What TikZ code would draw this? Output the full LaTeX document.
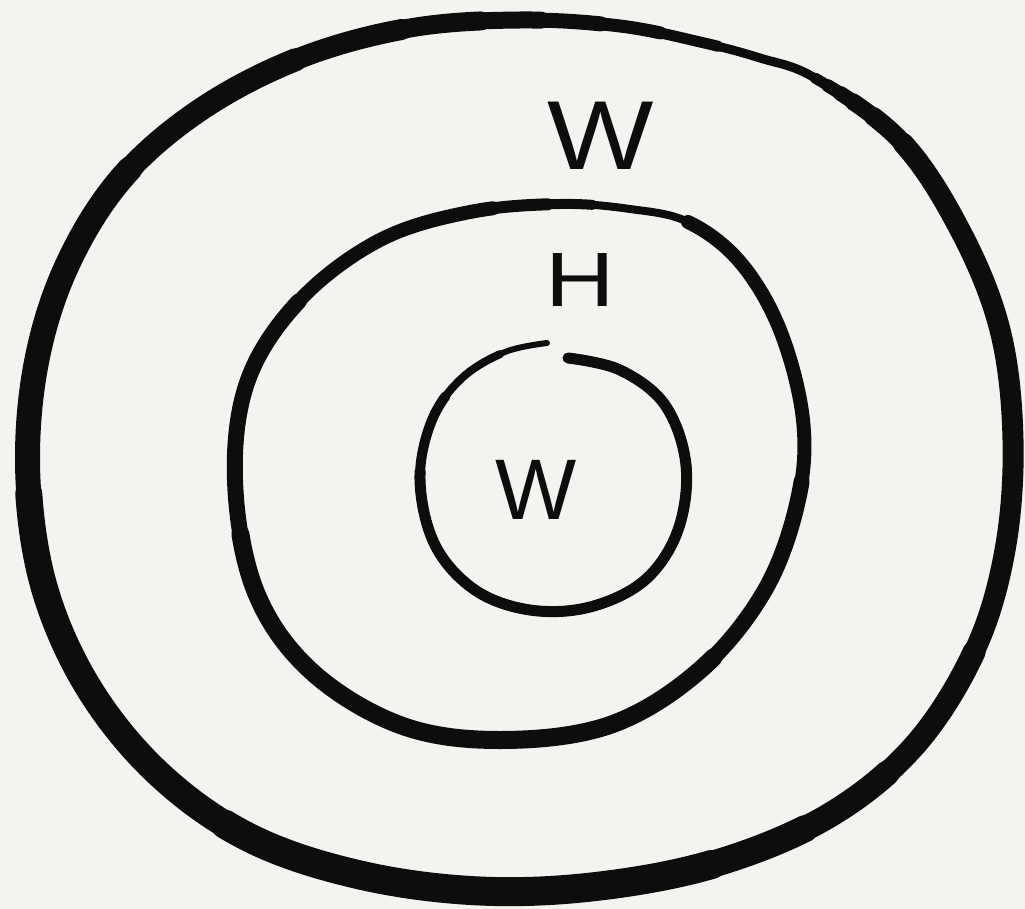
\documentclass[tikz,border=0pt]{standalone}
\usepackage{fontspec}
\setmainfont{Liberation Sans}
\definecolor{paper}{HTML}{F4F3F0}
\definecolor{ink}{HTML}{0D0D0D}
\begin{document}
\begin{tikzpicture}[x=1pt,y=-1pt,
  pen/.style={draw=ink, line cap=round, line join=round},
  part/.style 2 args={dash pattern=on #1pt off 6000pt, dash phase=#2pt},
  lbl/.style={text=ink, inner sep=0pt}]
\fill[paper] (0,0) rectangle (1025,909);
\useasboundingbox (0,0) rectangle (1025,909);
% outer ring: one closed path drawn in layers, thicker layers covering shorter arcs
\def\outerring{plot[smooth cycle, tension=0.6] coordinates {(760,58) (815,78) (900,140) (960,230) (1000,330) (1013,440) (1005,550) (975,650) (915,745) (830,815) (720,862) (600,886) (480,891) (360,875) (250,838) (160,775) (90,690) (45,590) (28,480) (35,370) (65,270) (120,180) (200,110) (300,58) (410,28) (520,20) (620,26) (700,42)}}
\draw[pen, line width=9pt] \outerring;
\draw[pen, line width=11pt, part={2880}{0}] \outerring;
\draw[pen, line width=13pt, part={2805}{8790}] \outerring;
\draw[pen, line width=15pt, part={2730}{8700}] \outerring;
\draw[pen, line width=17pt, part={2655}{8610}] \outerring;
\draw[pen, line width=19pt, part={2570}{8500}] \outerring;
\draw[pen, line width=21pt, part={2450}{8340}] \outerring;
\draw[pen, line width=23pt, part={1800}{7150}] \outerring;
\draw[pen, line width=25pt, part={1450}{6650}] \outerring;
\draw[pen, line width=27pt, part={1000}{6100}] \outerring;
\draw[pen, line width=29pt, part={500}{5500}] \outerring;
% middle ring
\def\middlering{plot[smooth cycle, tension=0.6] coordinates {(630,209) (688,222) (740,262) (780,330) (803,420) (798,500) (765,590) (700,670) (610,725) (500,740) (400,725) (310,670) (255,590) (235,480) (248,380) (300,300) (380,240) (470,212) (560,204)}}
\draw[pen, line width=8pt] \middlering;
\draw[pen, line width=10pt, part={1670}{0}] \middlering;
\draw[pen, line width=12pt, part={1625}{0}] \middlering;
\draw[pen, line width=14pt, part={1570}{0}] \middlering;
\draw[pen, line width=16pt, part={1050}{6750}] \middlering;
\draw[pen, line width=18pt, part={600}{6100}] \middlering;
% inner ring (open at the top)
\def\innerring{plot[smooth, tension=0.6] coordinates {(568,358) (620,370) (665,405) (686,465) (678,530) (645,580) (590,607) (530,610) (475,590) (435,545) (420,480) (432,420) (462,378) (505,352) (547,343)}}
\draw[pen, line width=6pt] \innerring;
\draw[pen, line width=8pt, part={770}{0}] \innerring;
\draw[pen, line width=10pt, part={700}{0}] \innerring;
\draw[pen, line width=11pt, part={620}{0}] \innerring;
% labels
\node[lbl, font=\fontsize{98}{98}\selectfont, xscale=1.15] (wtop) at (601,136) {W};
\node[lbl, font=\fontsize{77}{77}\selectfont, xscale=1.25] (h) at (580,280) {H};
\node[lbl, font=\fontsize{86}{86}\selectfont] (win) at (536,490) {W};
\end{tikzpicture}
\end{document}
